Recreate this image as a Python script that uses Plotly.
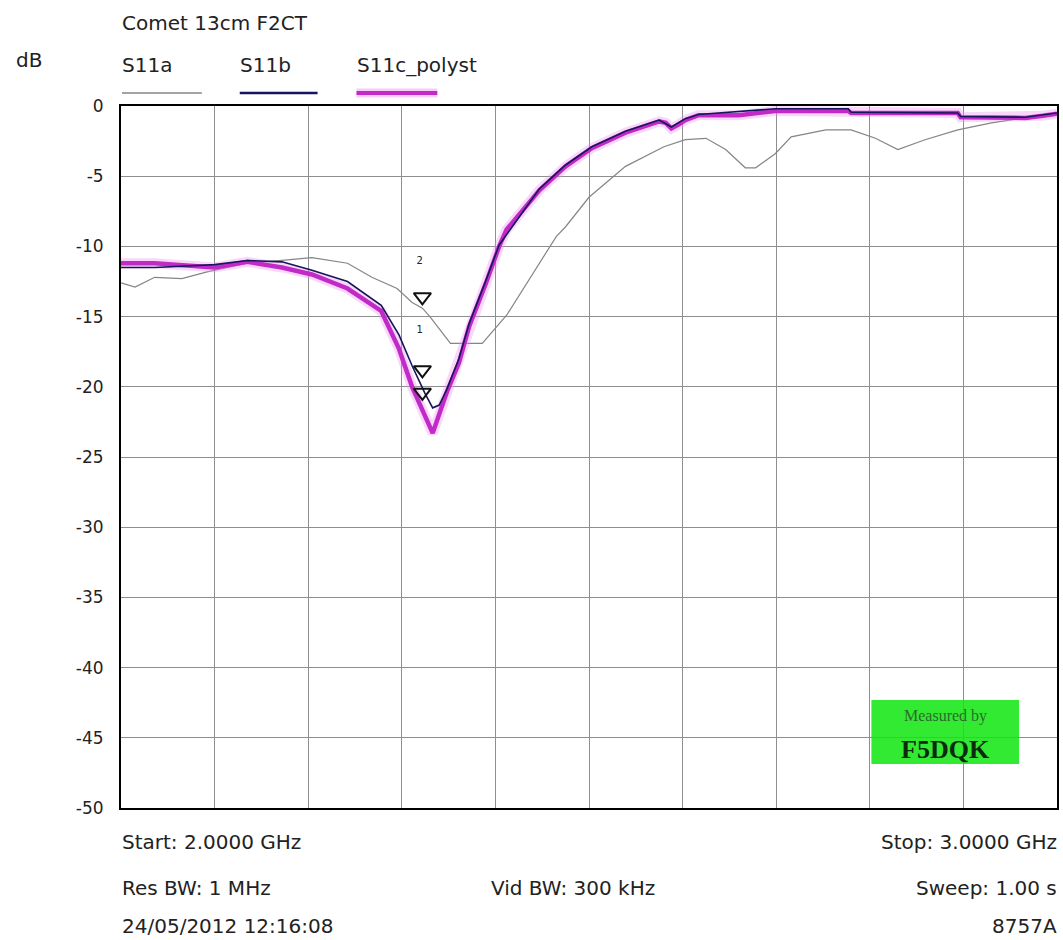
import plotly.graph_objects as go

# ---------------- data ----------------
freq_a = [2.000, 2.015, 2.036, 2.065, 2.093, 2.135, 2.172, 2.204, 2.242, 2.268, 2.295,
          2.311, 2.322, 2.330, 2.352, 2.386, 2.412, 2.436, 2.465, 2.475, 2.500, 2.539,
          2.580, 2.603, 2.625, 2.646, 2.667, 2.678, 2.699, 2.716, 2.753, 2.780, 2.806,
          2.830, 2.859, 2.894, 2.930, 2.966, 3.000]
s11a_db = [-12.6, -12.9, -12.2, -12.3, -11.8, -11.2, -11.0, -10.8, -11.2, -12.2, -13.0,
           -14.0, -14.4, -15.0, -16.9, -16.9, -14.9, -12.4, -9.3, -8.6, -6.5, -4.3,
           -2.9, -2.4, -2.3, -3.1, -4.4, -4.4, -3.4, -2.2, -1.7, -1.7, -2.3,
           -3.1, -2.4, -1.7, -1.2, -0.85, -0.65]

freq_b = [2.000, 2.036, 2.100, 2.135, 2.172, 2.204, 2.242, 2.278, 2.297, 2.311, 2.325,
          2.333, 2.340, 2.348, 2.361, 2.372, 2.390, 2.404, 2.447, 2.475, 2.503, 2.539,
          2.575, 2.588, 2.603, 2.617, 2.699, 2.777, 2.780, 2.894, 2.897, 2.966, 3.000]
s11b_db = [-11.5, -11.5, -11.3, -11.0, -11.1, -11.7, -12.5, -14.2, -16.3, -18.5, -20.5,
           -21.5, -21.3, -20.2, -18.0, -15.5, -12.4, -9.9, -5.9, -4.2, -2.9, -1.8,
           -1.0, -1.5, -0.9, -0.6, -0.2, -0.2, -0.45, -0.5, -0.75, -0.8, -0.5]

freq_c = [2.000, 2.036, 2.100, 2.135, 2.172, 2.204, 2.242, 2.278, 2.297, 2.311, 2.333,
          2.348, 2.361, 2.372, 2.390, 2.404, 2.412, 2.447, 2.475, 2.503, 2.539, 2.575,
          2.582, 2.588, 2.596, 2.603, 2.617, 2.660, 2.699, 2.777, 2.780, 2.894, 2.897,
          2.966, 2.985, 3.000]
s11c_db = [-11.2, -11.2, -11.5, -11.1, -11.5, -12.0, -13.0, -14.6, -17.3, -20.0, -23.3,
           -20.4, -18.3, -15.7, -12.6, -10.0, -8.8, -6.0, -4.3, -3.0, -1.9, -1.1,
           -1.2, -1.6, -1.3, -1.0, -0.65, -0.65, -0.35, -0.35, -0.5, -0.5, -0.8,
           -0.85, -0.7, -0.55]

marker_freq = [2.322, 2.322, 2.322]
marker_db = [-13.6, -18.8, -20.4]
marker_label_freq = [2.319, 2.319]
marker_label_db = [-11.1, -16.0]
marker_labels = ["2", "1"]

y_ticks = [0, -5, -10, -15, -20, -25, -30, -35, -40, -45, -50]
y_ticktext = [str(v) for v in y_ticks]

title_text = "Comet 13cm F2CT"
unit_text = "dB"
series_names = ["S11a", "S11b", "S11c_polyst"]
footer_left = ["Start: 2.0000 GHz", "Res BW: 1 MHz", "24/05/2012 12:16:08"]
footer_mid = "Vid BW: 300 kHz"
footer_right = ["Stop: 3.0000 GHz", "Sweep: 1.00 s", "8757A"]

# ---------------- figure ----------------
W, H = 1063, 940
L, R, T, B = 121, 4, 106, 132
PW, PH = W - L - R, H - T - B


def px(x):
    return (x - L) / PW


def py(y):
    return (H - B - y) / PH


GRAY = "#858585"
NAVY = "#16165c"
MAG = "#c22ac8"
FAM = "DejaVu Sans"

fig = go.Figure()
fig.add_trace(go.Scatter(x=freq_a, y=s11a_db, mode="lines",
                         line=dict(color=GRAY, width=1.2), name=series_names[0]))
fig.add_trace(go.Scatter(x=freq_c, y=s11c_db, mode="lines",
                         line=dict(color="rgba(238,140,240,0.35)", width=10),
                         hoverinfo="skip"))
fig.add_trace(go.Scatter(x=freq_c, y=s11c_db, mode="lines",
                         line=dict(color=MAG, width=4.5), name=series_names[2]))
fig.add_trace(go.Scatter(x=freq_b, y=s11b_db, mode="lines",
                         line=dict(color=NAVY, width=1.6), name=series_names[1]))
fig.add_trace(go.Scatter(x=marker_freq, y=marker_db, mode="markers",
                         marker=dict(symbol="triangle-down-open", size=15,
                                     color="#111111", line=dict(width=2, color="#111111")),
                         hoverinfo="skip"))
fig.add_trace(go.Scatter(x=marker_label_freq, y=marker_label_db, mode="text",
                         text=marker_labels,
                         textfont=dict(size=10, color="#222222", family=FAM),
                         hoverinfo="skip"))

grid = "#8e8e8e"
fig.update_xaxes(range=[2.0, 3.0], dtick=0.1, tick0=2.0, showticklabels=False,
                 showgrid=True, gridcolor=grid, gridwidth=1, zeroline=False,
                 showline=True, linecolor="#000000", linewidth=2, mirror=True, ticks="")
fig.update_yaxes(range=[-50, 0], tickvals=y_ticks, ticktext=y_ticktext,
                 showgrid=True, gridcolor=grid, gridwidth=1, zeroline=False,
                 showline=True, linecolor="#000000", linewidth=2, mirror=True, ticks="",
                 ticklabelstandoff=12,
                 tickfont=dict(size=17, color="#222222", family=FAM))

FONT = dict(family=FAM, size=20, color="#222222")
ann = []


def text(t, x, y, xanchor="left", font=None):
    ann.append(dict(text=t, x=px(x), y=py(y), xref="paper", yref="paper",
                    xanchor=xanchor, yanchor="middle", showarrow=False,
                    font=font or FONT))


text(title_text, 120, 23)
text(unit_text, 14, 60)
text(series_names[0], 120, 65)
text(series_names[1], 238, 65)
text(series_names[2], 355, 65)
for t, yy in zip(footer_left, [842, 888, 926]):
    text(t, 120, yy)
text(footer_mid, 490, 888)
for t, yy in zip(footer_right, [842, 888, 926]):
    text(t, 1061, yy, xanchor="right")

# green stamp
text("Measured by", 947, 716, xanchor="center",
     font=dict(family="Liberation Serif", size=16, color="#2c6a2c"))
text("<b>F5DQK</b>", 947, 749, xanchor="center",
     font=dict(family="Liberation Serif", size=26, color="#0b2a0b"))

shapes = [
    dict(type="rect", xref="paper", yref="paper", x0=px(873), x1=px(1021),
         y0=py(764), y1=py(700), fillcolor="#33ea33", line=dict(width=0), layer="below"),
    # legend samples
    dict(type="line", xref="paper", yref="paper", x0=px(122), x1=px(202), y0=py(93), y1=py(93),
         line=dict(color=GRAY, width=1.5)),
    dict(type="line", xref="paper", yref="paper", x0=px(240), x1=px(318), y0=py(93), y1=py(93),
         line=dict(color=NAVY, width=2.5)),
    dict(type="line", xref="paper", yref="paper", x0=px(357), x1=px(438), y0=py(93), y1=py(93),
         line=dict(color="rgba(238,140,240,0.45)", width=9)),
    dict(type="line", xref="paper", yref="paper", x0=px(357), x1=px(438), y0=py(93), y1=py(93),
         line=dict(color=MAG, width=4)),
]

fig.update_layout(width=W, height=H, margin=dict(l=L, r=R, t=T, b=B),
                  paper_bgcolor="white", plot_bgcolor="white", showlegend=False,
                  annotations=ann, shapes=shapes,
                  font=dict(family=FAM))

fig.write_html("out.html", config={"displayModeBar": False},
               post_script="document.body.style.margin='0px';document.body.style.overflow='hidden';")
